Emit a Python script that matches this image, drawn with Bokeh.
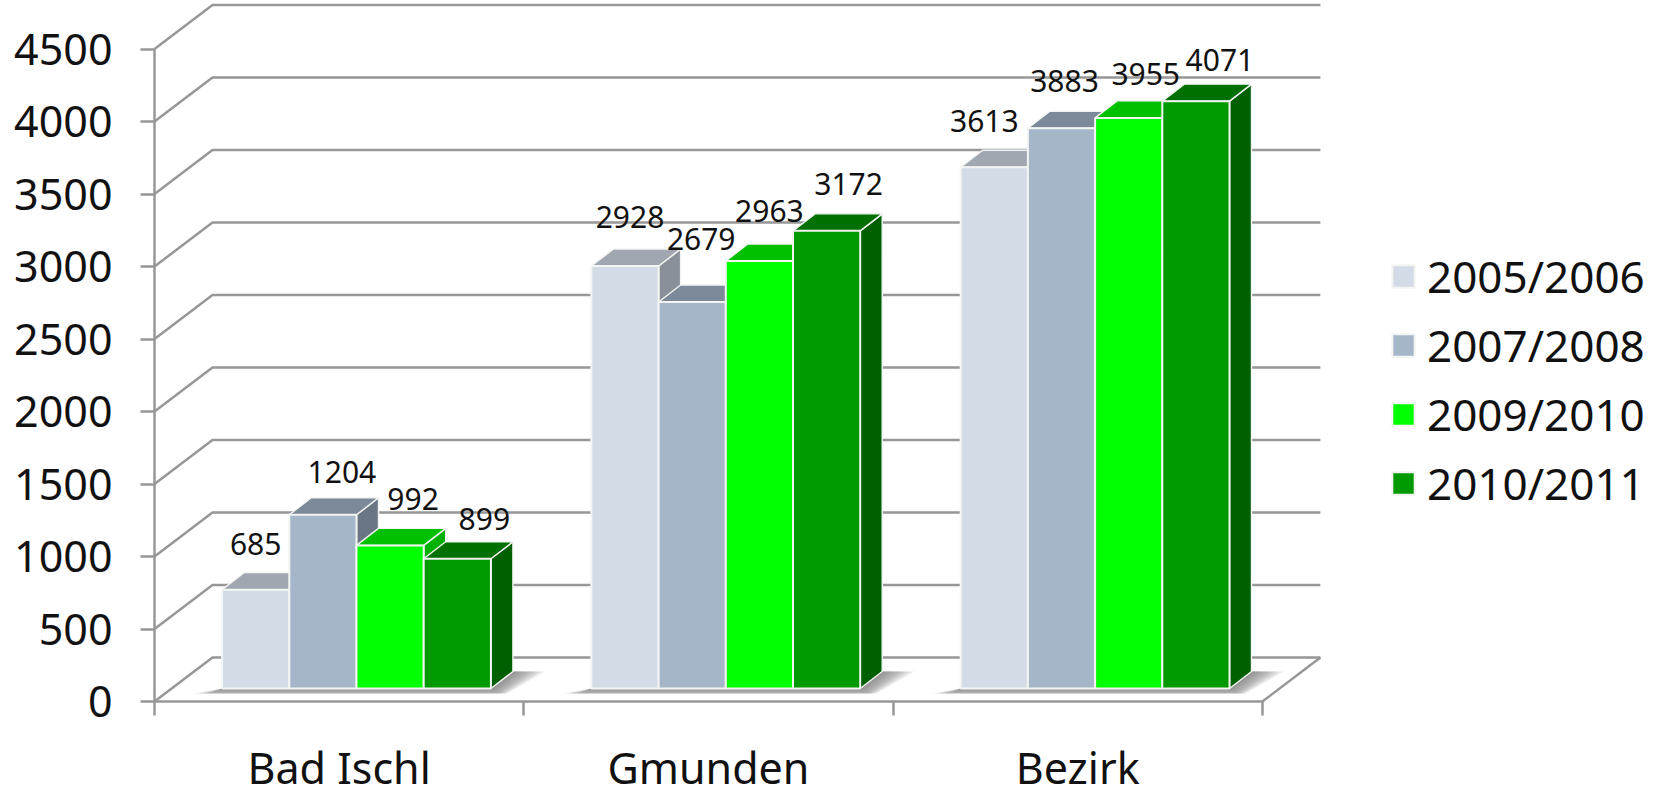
from bokeh.plotting import figure
from bokeh.embed import file_html
from bokeh.resources import INLINE
from bokeh.core.properties import value
from bokeh.models import LinearAxis, FixedTicker, Legend, LegendItem, ColumnDataSource

categories = ["Bad Ischl", "Gmunden", "Bezirk"]
series_names = ["2005/2006", "2007/2008", "2009/2010", "2010/2011"]
v_2005 = [685, 2928, 3613]
v_2007 = [1204, 2679, 3883]
v_2009 = [992, 2963, 3955]
v_2010 = [899, 3172, 4071]
series_values = [v_2005, v_2007, v_2009, v_2010]
y_ticks = [0, 500, 1000, 1500, 2000, 2500, 3000, 3500, 4000, 4500]

front_colors = ["#D3DCE6", "#A6B6C9", "#00FF00", "#009900"]
top_colors = ["#A1A7B0", "#7C8998", "#00C000", "#007000"]
side_colors = ["#8A9098", "#6A7684", "#00B000", "#005F00"]

# manual label displacement from each bar's front top centre (px)
label_dx = [[0, 5, -10], [19, 9, 3], [23, 10, 17], [27, 22, 24]]
label_dy = [[46, 49, 46], [43, 63, 47], [46, 50, 44], [40, 47, 41]]

GREY = "#979797"
FONT = value("Noto Sans")
X_PX = 369.3   # px per category
Y_PX = 0.145   # px per value on the axis
W, H = 1663, 790
LEFT, BASE = 154, 701

def dx(px):
    return px / X_PX

def dy(px):
    return px / Y_PX

p = figure(width=W, height=H, x_range=(dx(-LEFT), dx(W - LEFT)), y_range=(dy(BASE - H), dy(BASE)),
           output_backend="svg", toolbar_location=None, x_axis_type=None, y_axis_type=None,
           min_border_left=0, min_border_right=0, min_border_top=0, min_border_bottom=0,
           outline_line_color=None, margin=(0, 0, 0, 0))
p.grid.visible = False

# wall and floor lines
WALL_X, WALL_Y = dx(58), dy(44)
n = len(categories)
xs = [[0, WALL_X, n + WALL_X] for t in y_ticks]
ys = [[t, t + WALL_Y, t + WALL_Y] for t in y_ticks]
xs.append([n, n + WALL_X])
ys.append([0, WALL_Y])
p.multi_line(xs, ys, line_color=GREY, line_width=2.5)

# axes
yaxis = LinearAxis(ticker=FixedTicker(ticks=y_ticks), bounds=(0, 4500), fixed_location=0,
                   axis_line_color=GREY, axis_line_width=2.5,
                   major_tick_line_color=GREY, major_tick_line_width=2.5,
                   major_tick_out=14, major_tick_in=0, minor_tick_out=0, minor_tick_in=0,
                   major_label_standoff=28, major_label_text_font="Noto Sans",
                   major_label_text_font_size="43px", major_label_text_color="#111111")
p.add_layout(yaxis, "left")
centres = [i + 0.5 for i in range(n)]
xaxis = LinearAxis(ticker=FixedTicker(ticks=centres, minor_ticks=list(range(n + 1))),
                   bounds=(0, n), fixed_location=0,
                   axis_line_color=GREY, axis_line_width=2.5,
                   major_tick_out=0, major_tick_in=0, minor_tick_out=14, minor_tick_in=0,
                   minor_tick_line_color=GREY, minor_tick_line_width=2.5,
                   major_label_overrides={c: name for c, name in zip(centres, categories)},
                   major_label_standoff=22, major_label_text_font="Noto Sans",
                   major_label_text_font_size="43px", major_label_text_color="#111111")
p.add_layout(xaxis, "below")

# bar geometry
GAP = dx(50)
BAR_W = dx(67.2)
FRONT_X, FRONT_Y = dx(17.6), dy(13)
DEPTH_X, DEPTH_Y = dx(22), dy(17)
BAR_SCALE = 0.995

# floor shadow
layers = 7
for k in range(1, layers + 1):
    e = k / layers
    band = dy(13 - 5 * min(1, 2 * e))
    sx, sy = [], []
    for g in range(n):
        L = g + GAP + FRONT_X
        R = L + 4 * BAR_W
        sx.append([L - dx(28) * e, L, R, R + DEPTH_X, R + DEPTH_X + dx(32) * e, R + dx(16) * e])
        sy.append([band, FRONT_Y, FRONT_Y, FRONT_Y + DEPTH_Y, FRONT_Y + DEPTH_Y, band])
    p.patches(sx, sy, fill_color="#606060", fill_alpha=0.14, line_color=None)

# bars, left to right
legend_items = []
for s, vals in enumerate(series_values):
    left = [g + GAP + FRONT_X + s * BAR_W for g in range(n)]
    right = [l + BAR_W for l in left]
    tops = [FRONT_Y + v * BAR_SCALE for v in vals]
    top_x = [[l, l + DEPTH_X, r + DEPTH_X, r] for l, r in zip(left, right)]
    top_y = [[t, t + DEPTH_Y, t + DEPTH_Y, t] for t in tops]
    side_x = [[r, r + DEPTH_X, r + DEPTH_X, r] for r in right]
    side_y = [[FRONT_Y, FRONT_Y + DEPTH_Y, t + DEPTH_Y, t] for t in tops]
    p.patches(side_x, side_y, fill_color=side_colors[s], line_color="#F2F5F2", line_width=1.4)
    p.patches(top_x, top_y, fill_color=top_colors[s], line_color="#F2F5F2", line_width=1.4)
    front = p.quad(left=left, right=right, bottom=[FRONT_Y] * n, top=tops,
                   fill_color=front_colors[s], line_color="#F2F5F2", line_width=2)
    legend_items.append(LegendItem(label=series_names[s], renderers=[front]))

# value labels
for s, vals in enumerate(series_values):
    src = ColumnDataSource(dict(
        x=[g + GAP + FRONT_X + (s + 0.5) * BAR_W + dx(label_dx[s][g]) for g in range(n)],
        y=[FRONT_Y + v * BAR_SCALE + dy(label_dy[s][g]) for g, v in enumerate(vals)],
        t=[str(v) for v in vals]))
    p.text("x", "y", text="t", source=src, text_font=FONT, text_font_size="30px",
           text_color="#111111", text_align="center", text_baseline="middle")

legend = Legend(items=legend_items, location=(1389, 277), orientation="vertical",
                glyph_width=28, glyph_height=28, label_standoff=10, spacing=9, padding=0, margin=0,
                label_height=60, label_text_font="Noto Sans", label_text_font_size="44px",
                label_text_color="#111111", background_fill_alpha=0, border_line_color=None)
p.add_layout(legend, "center")

open("out.html", "w").write(file_html(p, INLINE))
